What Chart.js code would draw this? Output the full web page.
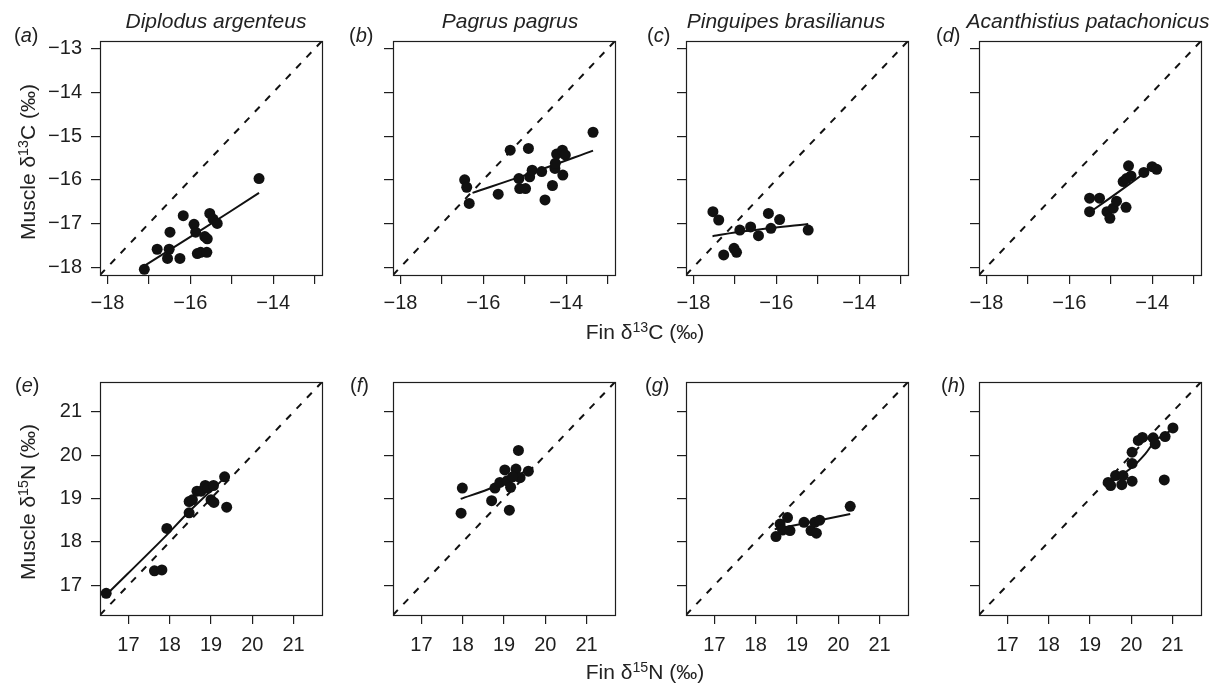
<!DOCTYPE html>
<html>
<head>
<meta charset="utf-8">
<script src="https://cdn.jsdelivr.net/npm/chart.js@4.4.1/dist/chart.umd.min.js"></script>
<style>
body{margin:0;background:#fff;width:1216px;height:690px;position:relative;overflow:hidden;
  font-family:'Liberation Sans',Arial,Helvetica,sans-serif;color:#222}
canvas{position:absolute}
.lab{position:absolute;white-space:nowrap;font-size:21px;transform:translate(-50%,-50%)}
.sp{font-style:italic}
.let{position:absolute;white-space:nowrap;font-size:20px;transform:translateY(-50%)}
.rot{transform:translate(-50%,-50%) rotate(-90deg)}
.sup{font-size:0.68em;position:relative;top:-0.5em}
</style>
</head>
<body>
<script>
// ── Fin vs muscle isotoper, 4 arter ─────────────────────
// akser
const carbonRange=[-18.18,-12.82];
const nitrogenRange=[16.31,21.69];
const carbonTicks=[-18,-17,-16,-15,-14,-13];
const carbonXLabels=[-18,-16,-14];
const nitrogenTicks=[17,18,19,20,21];

const species=["Diplodus argenteus","Pagrus pagrus","Pinguipes brasilianus","Acanthistius patachonicus"];
const panelLetters=["a","b","c","d","e","f","g","h"];

// δ13C  [fin, muscle]
const dipC=[[-17.11,-18.05],[-16.80,-17.59],[-16.49,-17.20],[-16.51,-17.59],[-16.55,-17.80],[-16.25,-17.80],
  [-16.17,-16.82],[-15.91,-17.02],[-15.87,-17.20],[-15.83,-17.69],[-15.75,-17.66],[-15.65,-17.30],
  [-15.60,-17.66],[-15.59,-17.35],[-15.53,-16.77],[-15.45,-16.90],[-15.35,-17.00],[-14.34,-15.97]];
const dipFitC=[[-17.11,-17.97],[-15.75,-17.16],[-14.34,-16.30]];

const pagC=[[-16.45,-16.00],[-16.40,-16.17],[-16.34,-16.54],[-15.64,-16.33],[-15.35,-15.32],[-14.91,-15.28],
  [-15.14,-15.97],[-15.12,-16.20],[-14.98,-16.20],[-14.88,-15.93],[-14.82,-15.78],[-14.59,-15.81],
  [-14.51,-16.46],[-14.33,-16.13],[-14.27,-15.74],[-14.26,-15.62],[-14.23,-15.41],[-14.09,-15.32],
  [-14.02,-15.43],[-14.08,-15.89],[-13.35,-14.91]];
const pagFitC=[[-16.26,-16.30],[-14.80,-15.83],[-13.35,-15.33]];

const pinC=[[-17.53,-16.73],[-17.39,-16.92],[-17.27,-17.72],[-17.02,-17.57],[-16.96,-17.66],[-16.88,-17.15],
  [-16.62,-17.08],[-16.43,-17.28],[-16.19,-16.77],[-16.13,-17.11],[-15.92,-16.91],[-15.23,-17.15]];
const pinFitC=[[-17.54,-17.29],[-16.80,-17.18],[-15.23,-17.01]];

const acaC=[[-15.51,-16.42],[-15.51,-16.73],[-15.27,-16.42],[-15.09,-16.73],[-15.02,-16.88],[-14.94,-16.65],
  [-14.86,-16.49],[-14.63,-16.63],[-14.70,-16.04],[-14.62,-15.97],[-14.51,-15.91],[-14.57,-15.68],
  [-14.20,-15.83],[-14.00,-15.70],[-13.89,-15.76]];
const acaFitC=[[-15.41,-16.68],[-14.80,-16.27],[-14.25,-15.89]];

// δ15N  [fin, muscle]
const dipN=[[16.46,16.81],[17.63,17.33],[17.81,17.35],[17.93,18.31],[18.47,18.67],[18.47,18.93],[18.55,18.97],
  [18.66,19.17],[18.76,19.17],[18.86,19.30],[18.93,19.24],[19.06,19.30],[19.00,18.97],[19.07,18.91],
  [19.33,19.50],[19.38,18.80]];
const dipFitN=[[16.50,16.81],[17.89,18.12],[18.43,18.66],[19.28,19.43]];

const pagN=[[17.99,19.24],[17.96,18.66],[18.70,18.95],[18.78,19.24],[18.90,19.37],[19.02,19.66],[19.08,19.41],
  [19.16,19.26],[19.13,18.73],[19.29,19.68],[19.35,20.11],[19.39,19.48],[19.59,19.63],[19.21,19.50]];
const pagFitN=[[17.95,18.99],[18.74,19.26],[19.71,19.72]];

const pinN=[[18.49,18.12],[18.59,18.41],[18.65,18.27],[18.77,18.56],[18.83,18.26],[19.17,18.45],[19.34,18.26],
  [19.47,18.20],[19.43,18.45],[19.55,18.50],[20.29,18.82]];
const pinFitN=[[18.46,18.29],[20.29,18.64]];

const acaN=[[19.44,19.37],[19.50,19.30],[19.62,19.53],[19.77,19.32],[19.80,19.53],[20.02,19.40],[20.02,19.81],
  [20.02,20.07],[20.17,20.34],[20.27,20.41],[20.53,20.40],[20.58,20.26],[20.82,20.43],[20.80,19.43],[21.01,20.63]];
const acaFitN=[[19.47,19.35],[20.02,19.72],[20.34,20.03],[20.59,20.34],[21.00,20.59]];

// plassering
const boxLefts=[100,393,686,979];
const boxW=222;
const L=70,T=24,R=24,B=64;
const ink="#1e1e1e";

Chart.defaults.font.family="'Liberation Sans', Arial, Helvetica, sans-serif";
Chart.defaults.font.size=20;
Chart.defaults.color=ink;

// ramme rundt plottet (som box() i R)
const boxPlugin={id:"box",afterDatasetsDraw(c){
  const a=c.chartArea,ctx=c.ctx;
  ctx.save();
  ctx.strokeStyle=ink;ctx.lineWidth=1.2;
  ctx.strokeRect(Math.round(a.left)+0.5,Math.round(a.top)+0.5,Math.round(a.right-a.left),Math.round(a.bottom-a.top));
  ctx.restore();
}};

const fmt=v=>v<0?"\u2212"+Math.abs(v):String(v);

function axis(range,ticks,labels,horizontal,pad){
  return {type:"linear",min:range[0],max:range[1],
    afterBuildTicks:s=>{s.ticks=ticks.map(v=>({value:v}));},
    afterFit:s=>{if(horizontal)s.height=B;else s.width=L;},
    grid:{drawOnChartArea:false,drawTicks:true,tickLength:9,color:ink,lineWidth:1.2},
    border:{display:false},
    ticks:{autoSkip:false,maxRotation:0,padding:pad,color:ink,font:{size:20},
      callback:v=>labels.includes(v)?fmt(v):""}};
}

function panel(col,row,pts,fit){
  const top=row===0?41:382, H=row===0?234:233;
  const range=row===0?carbonRange:nitrogenRange;
  const ticks=row===0?carbonTicks:nitrogenTicks;
  const xLab=row===0?carbonXLabels:nitrogenTicks;
  const yLab=col===0?ticks:[];
  const cv=document.createElement("canvas");
  cv.width=L+boxW+R; cv.height=T+H+B;
  cv.style.left=(boxLefts[col]-L)+"px";
  cv.style.top=(top-T)+"px";
  document.body.appendChild(cv);
  new Chart(cv,{
    type:"scatter",
    data:{datasets:[
      {data:pts.map(p=>({x:p[0],y:p[1]})),pointRadius:5.5,pointHoverRadius:5.5,backgroundColor:"#111",borderWidth:0,order:0},
      {data:fit.map(p=>({x:p[0],y:p[1]})),showLine:true,pointRadius:0,borderColor:"#111",borderWidth:2,tension:0.3,order:1},
      {data:range.map(v=>({x:v,y:v})),showLine:true,pointRadius:0,borderColor:"#111",borderWidth:2,borderDash:[7,8],order:2}
    ]},
    options:{responsive:false,animation:false,devicePixelRatio:1,
      layout:{padding:{top:T,right:R,left:0,bottom:0}},
      plugins:{legend:{display:false},tooltip:{enabled:false}},
      scales:{x:axis(range,ticks,xLab,true,row===0?7:9),y:axis(range,ticks,yLab,false,9)}},
    plugins:[boxPlugin]
  });
}

panel(0,0,dipC,dipFitC);
panel(1,0,pagC,pagFitC);
panel(2,0,pinC,pinFitC);
panel(3,0,acaC,acaFitC);
panel(0,1,dipN,dipFitN);
panel(1,1,pagN,pagFitN);
panel(2,1,pinN,pinFitN);
panel(3,1,acaN,acaFitN);

// tekst
function text(html,cls,x,y){
  const d=document.createElement("div");
  d.className=cls;d.innerHTML=html;
  d.style.left=x+"px";d.style.top=y+"px";
  document.body.appendChild(d);
}
const titleX=[216,510,786,1088];
species.forEach((s,i)=>text(s,"lab sp",titleX[i],21));
const letterX=[14,349,647,936,15,350,645,941];
panelLetters.forEach((l,i)=>text("(<i>"+l+"</i>)","let",letterX[i],i<4?35:385));
text("Muscle &delta;<span class='sup'>13</span>C (&permil;)","lab rot",28,162);
text("Muscle &delta;<span class='sup'>15</span>N (&permil;)","lab rot",28,502);
text("Fin &delta;<span class='sup'>13</span>C (&permil;)","lab",645,332);
text("Fin &delta;<span class='sup'>15</span>N (&permil;)","lab",645,672);
</script>
</body>
</html>
